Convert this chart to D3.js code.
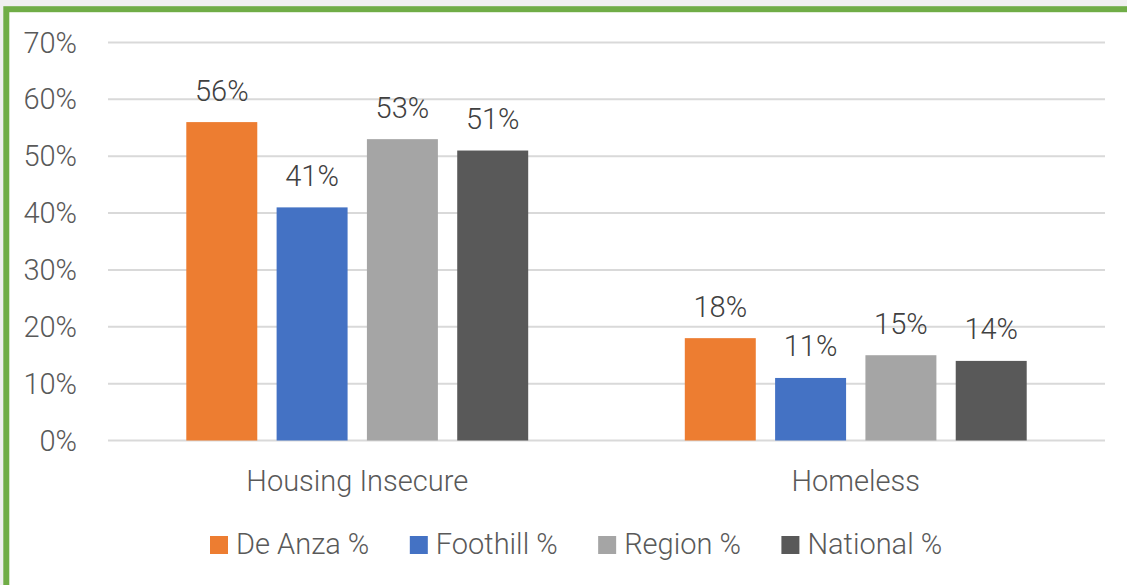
<!DOCTYPE html>
<html>
<head>
<meta charset="utf-8">
<script src="https://cdn.jsdelivr.net/npm/d3@7"></script>
<style>
  html, body { margin: 0; padding: 0; background: #f0f0f0; }
  svg { display: block; }
</style>
</head>
<body>
<svg id="chart" width="1127" height="585"></svg>
<script>
var categories = ["Housing Insecure", "Homeless"];
var seriesNames = ["De Anza %", "Foothill %", "Region %", "National %"];
var seriesColors = ["#ed7d31", "#4472c4", "#a5a5a5", "#595959"];
// values per series, one per category
var deAnza = [0.56, 0.18];
var foothill = [0.41, 0.11];
var region = [0.53, 0.15];
var national = [0.51, 0.14];
var yTicks = [0, 0.1, 0.2, 0.3, 0.4, 0.5, 0.6, 0.7];

var seriesValues = [deAnza, foothill, region, national];

var svg = d3.select("#chart");
var font = "Roboto, sans-serif";
var textColor = "#595959";

// frame
svg.append("rect")
  .attr("x", 6.3)
  .attr("y", 9.2)
  .attr("width", 1200)
  .attr("height", 580)
  .attr("fill", "#ffffff")
  .attr("stroke", "#70ad47")
  .attr("stroke-width", 6);

var y = d3.scaleLinear().domain([0, 0.7]).range([440.5, 42.5]);
var x0 = d3.scaleBand().domain(categories).range([108, 1105]).padding(0);
var x1 = d3.scaleBand().domain(seriesNames).range([0, x0.bandwidth()])
  .paddingInner(0.214).paddingOuter(0.867);

// gridlines
svg.append("g")
  .selectAll("line")
  .data(yTicks)
  .join("line")
  .attr("x1", 108)
  .attr("x2", 1105)
  .attr("y1", function(d) { return y(d); })
  .attr("y2", function(d) { return y(d); })
  .attr("stroke", "#d9d9d9")
  .attr("stroke-width", 2);

// y tick labels
svg.append("g")
  .selectAll("text")
  .data(yTicks)
  .join("text")
  .attr("x", 77)
  .attr("y", function(d) { return y(d) + 10; })
  .attr("text-anchor", "end")
  .attr("font-family", font)
  .attr("font-weight", 300)
  .attr("font-size", 29)
  .attr("fill", textColor)
  .text(d3.format(".0%"));

// bars
var groups = svg.append("g")
  .selectAll("g")
  .data(categories)
  .join("g")
  .attr("transform", function(d) { return "translate(" + x0(d) + ",0)"; });

groups.each(function(cat, ci) {
  var g = d3.select(this);
  var rows = seriesNames.map(function(name, si) {
    return { name: name, value: seriesValues[si][ci], color: seriesColors[si] };
  });

  g.selectAll("rect")
    .data(rows)
    .join("rect")
    .attr("x", function(d) { return x1(d.name); })
    .attr("y", function(d) { return y(d.value); })
    .attr("width", x1.bandwidth())
    .attr("height", function(d) { return y(0) - y(d.value); })
    .attr("fill", function(d) { return d.color; });

  g.selectAll("text")
    .data(rows)
    .join("text")
    .attr("x", function(d) { return x1(d.name) + x1.bandwidth() / 2; })
    .attr("y", function(d) { return y(d.value) - 21.5; })
    .attr("text-anchor", "middle")
    .attr("font-family", font)
    .attr("font-weight", 300)
    .attr("font-size", 29)
    .attr("fill", "#404040")
    .text(function(d) { return d3.format(".0%")(d.value); });
});

// category labels
svg.append("g")
  .selectAll("text")
  .data(categories)
  .join("text")
  .attr("x", function(d) { return x0(d) + x0.bandwidth() / 2; })
  .attr("y", y(0) + 50)
  .attr("text-anchor", "middle")
  .attr("font-family", font)
  .attr("font-weight", 300)
  .attr("font-size", 29)
  .attr("fill", textColor)
  .text(function(d) { return d; });

// legend
var legend = svg.append("g");
var lx = 210;
seriesNames.forEach(function(name, i) {
  legend.append("rect")
    .attr("x", lx)
    .attr("y", 536)
    .attr("width", 18)
    .attr("height", 18)
    .attr("fill", seriesColors[i]);
  var t = legend.append("text")
    .attr("x", lx + 26)
    .attr("y", 553.5)
    .attr("font-family", font)
    .attr("font-weight", 300)
    .attr("font-size", 29)
    .attr("fill", textColor)
    .text(name);
  lx += 26 + t.node().getComputedTextLength() + 40.5;
});
</script>
</body>
</html>
